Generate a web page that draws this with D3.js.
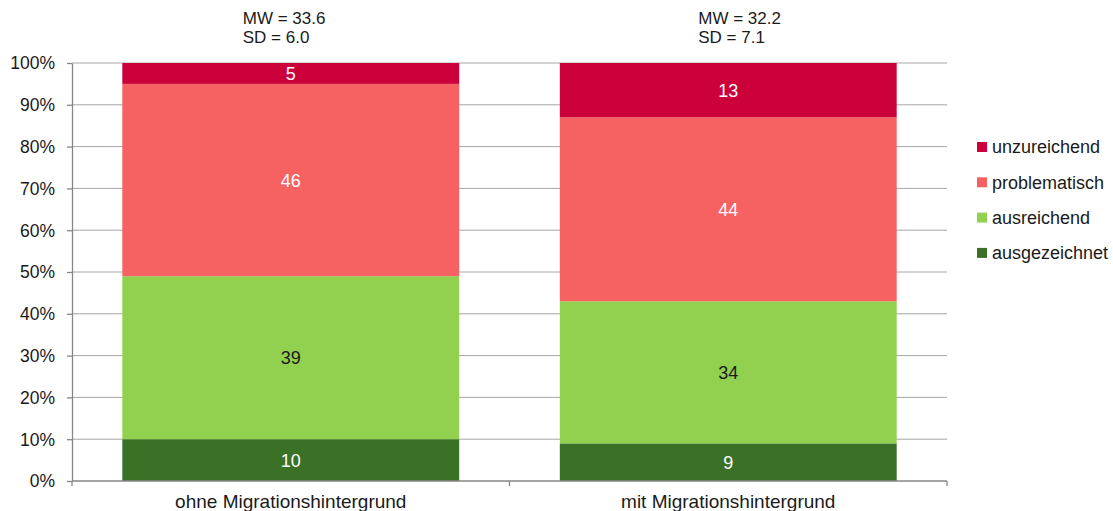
<!DOCTYPE html>
<meta charset="utf-8">
<style>
body { margin: 0; background: #fff; }
text { font-family: "Liberation Sans", Arial, sans-serif; fill: #1a1a1a; }
.grid line { stroke: #a6a6a6; stroke-width: 1px; }
.axis path, .axis line { stroke: #868686; stroke-width: 1.3px; }
</style>
<body>
<script src="https://cdnjs.cloudflare.com/ajax/libs/d3/7.8.5/d3.min.js"></script>
<script>

// data
var groups = ["ohne Migrationshintergrund", "mit Migrationshintergrund"];
var levels = ["ausgezeichnet", "ausreichend", "problematisch", "unzureichend"];
var ausgezeichnet = [10, 9];
var ausreichend = [39, 34];
var problematisch = [46, 44];
var unzureichend = [5, 13];
var mw = ["33.6", "32.2"];
var sd = ["6.0", "7.1"];
var yTicks = [0, 10, 20, 30, 40, 50, 60, 70, 80, 90, 100];

var colors = {
  ausgezeichnet: "#3b7027",
  ausreichend: "#92d050",
  problematisch: "#f66262",
  unzureichend: "#cc003a"
};
var labelColors = {
  ausgezeichnet: "#fff",
  ausreichend: "#1a1a1a",
  problematisch: "#fff",
  unzureichend: "#fff"
};

// dimensions
var margin = {top: 63, right: 166, bottom: 30, left: 72},
    width = 1113 - margin.left - margin.right,
    height = 511 - margin.top - margin.bottom;

var x = d3.scaleBand().domain(groups).range([0, width])
    .paddingInner(0.23).paddingOuter(0.115);
var y = d3.scaleLinear().domain([0, 100]).range([height, 0]);

// build rows for the stack
var rows = groups.map(function(g, i) {
  return {group: g, ausgezeichnet: ausgezeichnet[i], ausreichend: ausreichend[i],
          problematisch: problematisch[i], unzureichend: unzureichend[i]};
});
var series = d3.stack().keys(levels)(rows);

var svg = d3.select("body").append("svg")
    .attr("width", 1113)
    .attr("height", 511)
  .append("g")
    .attr("transform", "translate(" + margin.left + "," + margin.top + ")");

// gridlines
svg.append("g")
    .attr("class", "grid")
  .selectAll("line")
  .data(yTicks.filter(function(d) { return d > 0; }))
  .enter().append("line")
    .attr("x1", 0)
    .attr("x2", width)
    .attr("y1", function(d) { return y(d); })
    .attr("y2", function(d) { return y(d); });

// bars
var layer = svg.selectAll(".layer")
  .data(series)
  .enter().append("g")
    .attr("class", "layer")
    .attr("fill", function(d) { return colors[d.key]; });

layer.selectAll("rect")
  .data(function(d) { return d; })
  .enter().append("rect")
    .attr("x", function(d) { return x(d.data.group); })
    .attr("y", function(d) { return y(d[1]); })
    .attr("width", x.bandwidth())
    .attr("height", function(d) { return y(d[0]) - y(d[1]); });

// value labels
series.forEach(function(s) {
  svg.selectAll(null)
    .data(s)
    .enter().append("text")
      .attr("x", function(d) { return x(d.data.group) + x.bandwidth() / 2; })
      .attr("y", function(d) { return (y(d[0]) + y(d[1])) / 2; })
      .attr("dy", "0.36em")
      .attr("text-anchor", "middle")
      .style("font-size", "18px")
      .style("fill", labelColors[s.key])
      .text(function(d) { return d[1] - d[0]; });
});

// y axis
var yAxis = svg.append("g")
    .attr("class", "axis")
    .call(d3.axisLeft(y).tickValues(yTicks)
      .tickFormat(function(d) { return d + "%"; })
      .tickSize(5).tickSizeOuter(0).tickPadding(12));
yAxis.selectAll("text").style("font-size", "17.5px").attr("dy", "0.34em");

// x axis
var xAxis = svg.append("g")
    .attr("class", "axis")
    .attr("transform", "translate(0," + height + ")");
xAxis.append("line").attr("x1", 0).attr("x2", width);
xAxis.selectAll(".tk")
  .data([0, width / 2, width])
  .enter().append("line")
    .attr("class", "tk")
    .attr("x1", function(d) { return d; })
    .attr("x2", function(d) { return d; })
    .attr("y1", 0)
    .attr("y2", 5);
xAxis.selectAll(".cat")
  .data(groups)
  .enter().append("text")
    .attr("class", "cat")
    .attr("x", function(d) { return x(d) + x.bandwidth() / 2; })
    .attr("y", 27)
    .attr("text-anchor", "middle")
    .style("font-size", "19px")
    .text(function(d) { return d; });

// MW / SD annotations
var annoOffset = [-48, -30];
groups.forEach(function(g, i) {
  var ax = x(g) + x.bandwidth() / 2 + annoOffset[i];
  svg.append("text")
      .attr("x", ax).attr("y", -39)
      .style("font-size", "17px")
      .text("MW = " + mw[i]);
  svg.append("text")
      .attr("x", ax).attr("y", -20)
      .style("font-size", "17px")
      .text("SD = " + sd[i]);
});

// legend
var legend = svg.append("g")
    .attr("transform", "translate(" + (width + 30) + "," + 84 + ")");
var legendItems = legend.selectAll("g")
  .data(levels.slice().reverse())
  .enter().append("g")
    .attr("transform", function(d, i) { return "translate(0," + (i * 35.3) + ")"; });
legendItems.append("rect")
    .attr("x", 0).attr("y", -5)
    .attr("width", 10).attr("height", 10)
    .attr("fill", function(d) { return colors[d]; });
legendItems.append("text")
    .attr("x", 15)
    .attr("dy", "0.36em")
    .style("font-size", "18px")
    .text(function(d) { return d; });

</script>
</body>
